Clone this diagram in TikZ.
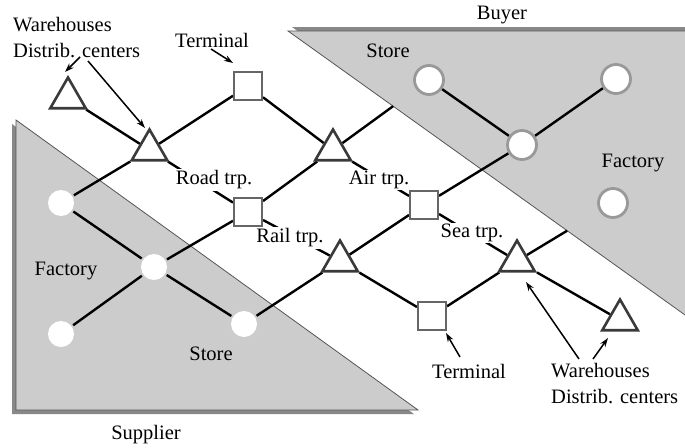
\documentclass[tikz,border=0pt]{standalone}
\usepackage{fontspec}
\setmainfont{Liberation Serif}
\usetikzlibrary{shapes.geometric,arrows.meta,calc}
\pgfdeclarelayer{shade}
\pgfdeclarelayer{links}
\pgfsetlayers{shade,links,main}
\definecolor{panel}{HTML}{CCCCCC}
\definecolor{panelshadow}{HTML}{888888}
\definecolor{paneledge}{HTML}{555555}
\definecolor{trioutline}{HTML}{3A3A3A}
\definecolor{sqoutline}{HTML}{666666}
\definecolor{ringoutline}{HTML}{999999}

\begin{document}
\begin{tikzpicture}[x=1pt,y=-1pt,
  every node/.style={font=\fontsize{20.5}{26}\selectfont, inner sep=0pt},
  hub/.style={regular polygon, regular polygon sides=3, minimum size=41pt,
    draw=trioutline, line width=2.6pt, fill=white},
  term/.style={rectangle, minimum size=28pt, draw=sqoutline, line width=2pt, fill=white},
  site/.style={circle, minimum size=26pt, fill=white, outer sep=2pt},
  client/.style={circle, minimum size=29pt, draw=ringoutline, line width=2.8pt, fill=white},
  link/.style={line width=2.4pt, black},
  mode/.style={fill=white, inner sep=1.5pt},
  pointer/.style={line width=1.5pt, -{Stealth[length=9pt,width=6pt]}},
  region/.style={fill=panel, draw=paneledge, line width=0.8pt},
  regionshadow/.style={fill=panelshadow}
]
\clip (0,0) rectangle (685,447);

% supplier and buyer areas with their drop shadows
\begin{pgfonlayer}{shade}
  \fill[regionshadow] (12,124) -- (12,414) -- (414,414) -- cycle;
  \path[region] (16,120) -- (16,410) -- (418,410) -- cycle;
  \fill[regionshadow] (292,27) -- (700,27) -- (700,318.9) -- cycle;
  \path[region] (288,31) -- (700,31) -- (700,325.7) -- cycle;
\end{pgfonlayer}

% warehouses / distribution centers
\node[hub] (T1) at (68,98) {};
\node[hub] (T2) at (149.5,150) {};
\node[hub] (T3) at (333,150) {};
\node[hub] (T4) at (340,261) {};
\node[hub] (T5) at (517,261) {};
\node[hub] (T6) at (620,320) {};

% terminals
\node[term] (S1) at (248,86) {};
\node[term] (S2) at (248,212) {};
\node[term] (S3) at (424,205) {};
\node[term] (S4) at (432,316) {};

% supplier sites
\node[site] (C1) at (61,203) {};
\node[site] (C2) at (154,267) {};
\node[site] (C3) at (61,334) {};
\node[site] (C4) at (244,324) {};

% buyer sites
\node[client] (B1) at (429,80) {};
\node[client] (B2) at (616,79) {};
\node[client] (B3) at (522,145) {};
\node[client] (B4) at (613,203) {};

% links that run under the buyer area end at its border
\coordinate (airEnd) at ($(T3)!0.626!(B1)$);
\coordinate (seaEnd) at ($(T5)!0.5225!(B4)$);

% transport mode labels sit on their links
\node[mode] (road) at (214,180) {Road trp.};
\node[mode] (air)  at (379,180) {Air trp.};
\node[mode] (rail) at (290,238) {Rail trp.};
\node[mode] (sea)  at (472,233) {Sea trp.};

\begin{pgfonlayer}{links}
  \draw[link] (T1) -- (T2);
  \draw[link] (T2) -- (S1);
  \draw[link] (T2) -- (C1);
  \draw[link] (S1) -- (T3);
  \draw[link] (T3) -- (airEnd);
  \draw[link] (T3) -- (S2);
  \draw[link] (S2) -- (C2);
  \draw[link] (C1) -- (C2);
  \draw[link] (C2) -- (C3);
  \draw[link] (C2) -- (C4);
  \draw[link] (C4) -- (T4);
  \draw[link] (T4) -- (S3);
  \draw[link] (S3) -- (B3);
  \draw[link] (B3) -- (B1);
  \draw[link] (B3) -- (B2);
  \draw[link] (T4) -- (S4);
  \draw[link] (S4) -- (T5);
  \draw[link] (T5) -- (T6);
  \draw[link] (T5) -- (seaEnd);
  \draw[link] (T2) -- (S2);
  \draw[link] (S2) -- (T4);
  \draw[link] (T3) -- (S3);
  \draw[link] (S3) -- (T5);
\end{pgfonlayer}

% area and site labels
\node (buyer)    at (502,15)  {Buyer};
\node (storeB)   at (388,51)  {Store};
\node (factB)    at (633,163) {Factory};
\node (factS)    at (66,271)  {Factory};
\node (storeS)   at (211,354) {Store};
\node (supplier) at (146,435) {Supplier};

% callouts
\node (termTop) at (212,40) {Terminal};
\node (termBot) at (469,371) {Terminal};
\node[anchor=north west, align=left] (whTop) at (13,17) {Warehouses\\Distrib. centers};
\node[anchor=north west, align=left] (whBot) at (551,363) {Warehouses\\Distrib. centers};

\coordinate (whTopA) at (80,57);
\coordinate (whTopB) at (88,61);
\coordinate (tipT1)  at (65,72);
\coordinate (tipT2)  at (145,128);
\coordinate (termTopA) at (211,49);
\coordinate (tipS1)  at (233,63);
\coordinate (termBotA) at (460,357);
\coordinate (tipS4)  at (446,333);
\coordinate (whBotA) at (579,359);
\coordinate (whBotB) at (593,359);
\coordinate (tipT5)  at (526,282);
\coordinate (tipT6)  at (608,338);

\draw[pointer] (whTopA) -- (tipT1);
\draw[pointer] (whTopB) -- (tipT2);
\draw[pointer] (termTopA) -- (tipS1);
\draw[pointer] (termBotA) -- (tipS4);
\draw[pointer] (whBotA) -- (tipT5);
\draw[pointer] (whBotB) -- (tipT6);
\end{tikzpicture}
\end{document}
